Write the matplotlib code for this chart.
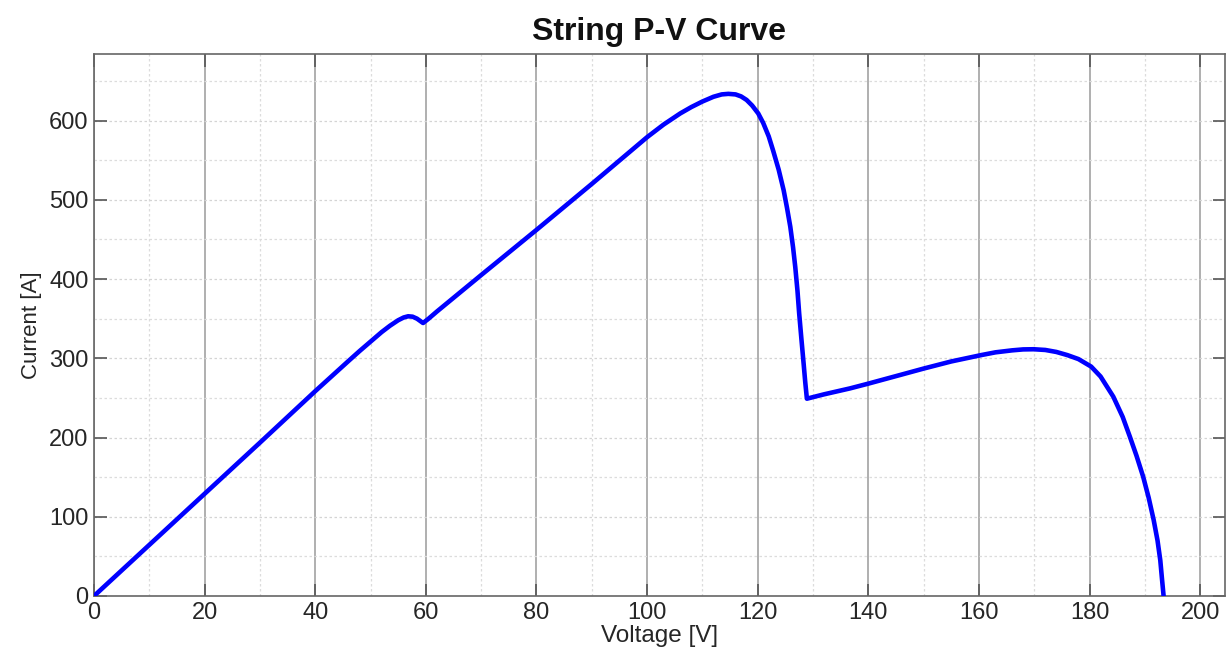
import numpy as np
import matplotlib
matplotlib.use('Agg')
import matplotlib.pyplot as plt
from matplotlib.ticker import MultipleLocator

plt.rcParams['font.family'] = ['Liberation Sans', 'DejaVu Sans']

# String P-V curve
voltage = [0, 10, 20, 30, 40, 46, 48, 50, 52, 53.5, 55, 56, 56.8, 57.6, 58.4,
           59, 59.5, 60.5, 62, 70, 80, 90, 100, 103, 106, 108, 110, 112, 113.5,
           114.7, 116, 117, 118, 119, 120.1, 121, 122, 122.8, 123.8, 124.7,
           125.3, 125.9, 126.4, 126.8, 127.2, 127.5, 127.9, 128.3, 128.6, 128.9,
           132, 136.7, 140, 145.8, 150, 155, 160.4, 163, 166, 168, 169.9, 172,
           174, 176, 178, 180.3, 182, 184.3, 186, 187.3, 188.5, 189.7, 190.7,
           191.6, 192.3, 192.8, 193.1, 193.4]
current = [0, 64.5, 129, 193.5, 258.5, 296.5, 309, 321, 333, 341, 348, 351.5,
           353, 352.5, 350, 347, 344.5, 350, 359, 405, 462, 520, 579, 595, 609,
           617, 624, 630, 633, 633.7, 633, 630.5, 626, 619, 609, 597, 580, 562,
           538, 512, 490, 466, 440, 415, 385, 357, 325, 294, 270, 249, 254.5,
           262, 268, 279, 287, 296, 304, 307.5, 310, 311.2, 311.4, 310.5, 308,
           304, 299, 289.5, 277, 251.6, 226, 201, 177, 150.6, 124, 96, 70, 45,
           22, 0]

fig = plt.figure(figsize=(12.31, 6.57), dpi=100)
ax = fig.add_axes([94 / 1231, 61 / 657, 1131 / 1231, 542 / 657])

ax.plot(voltage, current, color='#0000ff', lw=3.3, solid_joinstyle='round',
        solid_capstyle='round', zorder=3)

ax.set_xlim(0, 204.5)
ax.set_ylim(0, 684)
ax.xaxis.set_major_locator(MultipleLocator(20))
ax.xaxis.set_minor_locator(MultipleLocator(10))
ax.yaxis.set_major_locator(MultipleLocator(100))
ax.yaxis.set_minor_locator(MultipleLocator(50))

# grid: solid vertical major lines, dotted everything else
ax.grid(True, which='major', axis='x', color='#9a9a9a', lw=1.1, ls='-')
ax.grid(True, which='major', axis='y', color='#d4d4d4', lw=0.9, ls=(0, (2, 2)))
ax.grid(True, which='minor', axis='both', color='#dcdcdc', lw=0.9, ls=(0, (2, 2)))
ax.set_axisbelow(True)

ax.tick_params(which='major', direction='in', length=9, width=1.2, color='#555555',
               top=True, right=True, labelsize=17, labelcolor='#262626', pad=4)
ax.tick_params(which='minor', length=0, top=True, right=True)
for sp in ax.spines.values():
    sp.set_color('#666666')
    sp.set_linewidth(1.2)

ax.set_xlabel('Voltage [V]', fontsize=17.5, color='#262626', labelpad=1)
ax.set_ylabel('Current [A]', fontsize=16, color='#262626', labelpad=5)
ax.set_title('String P-V Curve', fontsize=23, fontweight='bold', color='#111111', pad=10)

fig.savefig('out.png', dpi=100)
plt.close()
